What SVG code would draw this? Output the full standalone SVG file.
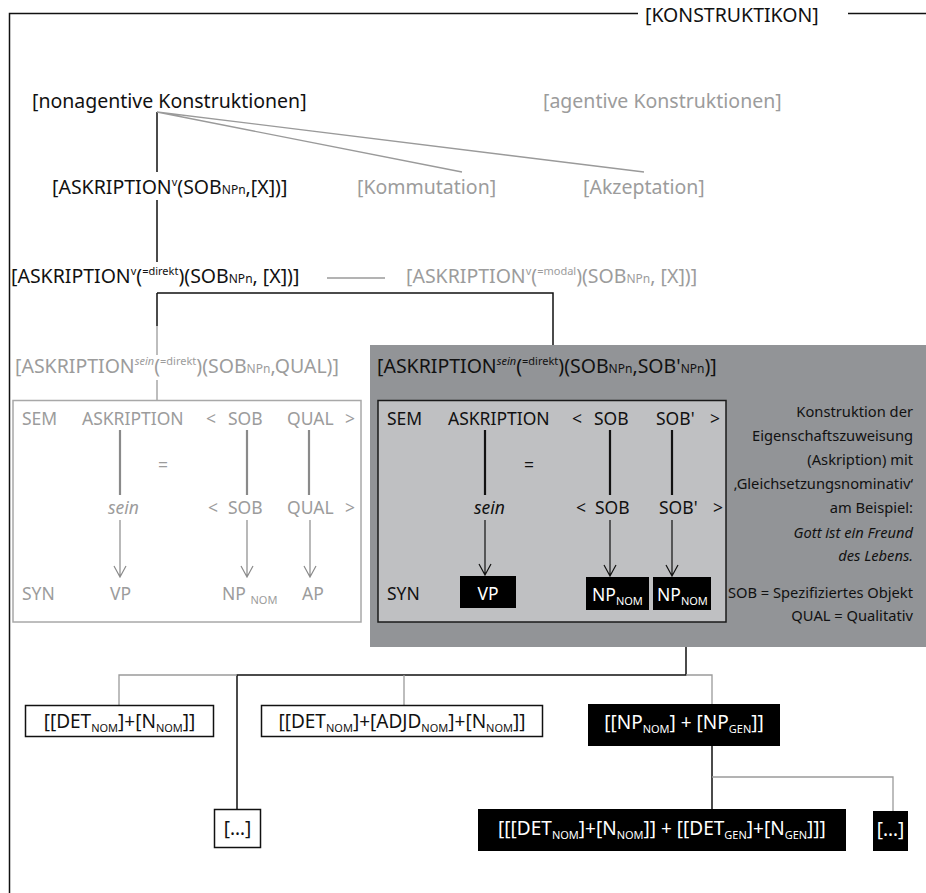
<svg xmlns="http://www.w3.org/2000/svg" width="926" height="893" viewBox="0 0 926 893">
<style>
text{font-family:"Noto Sans","DejaVu Sans",sans-serif;fill:#111}
.h{font-size:19.5px}
.gt{fill:#9c9c9c}
.bx{font-size:17.5px}
.sm{font-size:11px}
.np{font-size:12px}
.note{font-size:14.7px}
.w{fill:#fff}
.k{stroke:#111;stroke-width:1.5;fill:none}
.gl{stroke:#9a9a9a;stroke-width:1.3;fill:none}
.bt{font-size:19px}
</style>
<rect width="926" height="893" fill="#fff"/>

<g id="frame">
<path class="k" d="M9.5,893 V13.5 H638 M848,13.5 H926"/>
<text class="h" x="645" y="22">[KONSTRUKTIKON]</text>
</g>

<g id="connectors">
<path class="k" d="M157,112 V172 M157,200 V262 M157,293 H553 V350 M157,293 V326"/>
<path class="gl" d="M157,112 L462,172 M157,112 L644,172 M327,278 H385 M157,326 V355 M157,380 V400"/>
<path class="k" d="M686,610 V675 H237 V810 M712,746 V809"/>
<path class="gl" d="M237,675 H119 V705 M686,675 H712 V704 M404,675 V705 M712,777 H893 V811"/>
</g>

<g id="n-nonagentive"><text class="h" x="32" y="108">[nonagentive Konstruktionen]</text></g>
<g id="n-agentive"><text class="h gt" x="543" y="108">[agentive Konstruktionen]</text></g>
<g id="n-askription"><text class="h" x="52" y="194">[ASKRIPTION<tspan class="sm" dy="-8">v</tspan><tspan dy="8">(SOB</tspan><tspan class="np">NPn</tspan>,[X])]</text></g>
<g id="n-kommutation"><text class="h gt" x="357" y="194">[Kommutation]</text></g>
<g id="n-akzeptation"><text class="h gt" x="583" y="194">[Akzeptation]</text></g>
<g id="n-direkt"><text class="h" x="11" y="283">[ASKRIPTION<tspan class="sm" dy="-8">v</tspan><tspan dy="8">(</tspan><tspan class="sm" dy="-8">=direkt</tspan><tspan dy="8">)(SOB</tspan><tspan class="np">NPn</tspan>, [X])]</text></g>
<g id="n-modal"><text class="h gt" x="406" y="283">[ASKRIPTION<tspan class="sm" dy="-8">v</tspan><tspan dy="8">(</tspan><tspan class="sm" dy="-8">=modal</tspan><tspan dy="8">)(SOB</tspan><tspan class="np">NPn</tspan>, [X])]</text></g>

<g id="n-qual">
<text class="h gt" x="15" y="373">[ASKRIPTION<tspan class="sm" dy="-8" font-style="italic">sein</tspan><tspan dy="8">(</tspan><tspan class="sm" dy="-8">=direkt</tspan><tspan dy="8">)(SOB</tspan><tspan class="np">NPn</tspan>,QUAL)]</text>
<rect x="13" y="400.5" width="348" height="221.5" fill="#fff" stroke="#a8a8a8" stroke-width="1.5"/>
<g class="bx">
<text class="bx gt" x="22" y="425">SEM</text>
<text class="bx gt" x="82" y="425">ASKRIPTION</text>
<text class="bx gt" x="206" y="425">&lt;</text>
<text class="bx gt" x="228" y="425">SOB</text>
<text class="bx gt" x="287" y="425">QUAL</text>
<text class="bx gt" x="345" y="425">&gt;</text>
<text class="bx gt" x="158" y="471">=</text>
<text class="bx gt" x="108" y="514" font-style="italic">sein</text>
<text class="bx gt" x="208" y="514">&lt;</text>
<text class="bx gt" x="228" y="514">SOB</text>
<text class="bx gt" x="287" y="514">QUAL</text>
<text class="bx gt" x="345" y="514">&gt;</text>
<text class="bx gt" x="22" y="600">SYN</text>
<text class="bx gt" x="110" y="600">VP</text>
<text class="bx gt" x="222" y="600">NP <tspan class="sm" dy="4">NOM</tspan></text>
<text class="bx gt" x="302" y="600">AP</text>
</g>
<path d="M120,430 V495 M247,430 V495 M309,430 V495" stroke="#8a8a8a" stroke-width="2.2"/>
<path d="M120,520 V577 M247,520 V577 M310,520 V577 M114,566 L120,577 L126,566 M241,566 L247,577 L253,566 M304,566 L310,577 L316,566" stroke="#8a8a8a" stroke-width="1.2" fill="none"/>
</g>

<g id="n-sob">
<rect x="370" y="345" width="556" height="302" fill="#929497"/>
<text class="h" x="377" y="373">[ASKRIPTION<tspan class="sm" dy="-8" font-style="italic">sein</tspan><tspan dy="8">(</tspan><tspan class="sm" dy="-8">=direkt</tspan><tspan dy="8">)(SOB</tspan><tspan class="np">NPn</tspan>,SOB'<tspan class="np">NPn</tspan>)]</text>
<rect x="378" y="400.5" width="348" height="221.5" fill="#bfc0c2" stroke="#1a1a1a" stroke-width="1.5"/>
<text class="bx" x="387" y="425">SEM</text>
<text class="bx" x="448" y="425">ASKRIPTION</text>
<text class="bx" x="572" y="425">&lt;</text>
<text class="bx" x="594" y="425">SOB</text>
<text class="bx" x="656" y="425">SOB'</text>
<text class="bx" x="710" y="425">&gt;</text>
<text class="bx" x="524" y="471">=</text>
<text class="bx" x="474" y="514" font-style="italic">sein</text>
<text class="bx" x="576" y="514">&lt;</text>
<text class="bx" x="595" y="514">SOB</text>
<text class="bx" x="659" y="514">SOB'</text>
<text class="bx" x="713" y="514">&gt;</text>
<text class="bx" x="387" y="600">SYN</text>
<rect x="460" y="576" width="56" height="32" fill="#000"/>
<text class="bx w" x="488" y="600" text-anchor="middle">VP</text>
<rect x="586" y="577" width="63" height="33" fill="#000"/>
<text class="bx w" x="592" y="601">NP<tspan class="sm" dy="4">NOM</tspan></text>
<rect x="653" y="577" width="58" height="33" fill="#000"/>
<text class="bx w" x="657" y="601">NP<tspan class="sm" dy="4">NOM</tspan></text>
<path d="M485,430 V495 M610,430 V495 M672,430 V495" stroke="#111" stroke-width="2.2"/>
<path d="M485,520 V575 M610,520 V576 M672,520 V576 M479,564 L485,575 L491,564 M604,565 L610,576 L616,565 M666,565 L672,576 L678,565" stroke="#111" stroke-width="1.2" fill="none"/>
<g text-anchor="end">
<text class="note" x="913" y="417">Konstruktion der</text>
<text class="note" x="913" y="441">Eigenschaftszuweisung</text>
<text class="note" x="913" y="465">(Askription) mit</text>
<text class="note" x="913" y="489">‚Gleichsetzungsnominativ‘</text>
<text class="note" x="913" y="513">am Beispiel:</text>
<text class="note" x="913" y="538" font-style="italic">Gott ist ein Freund</text>
<text class="note" x="913" y="561" font-style="italic">des Lebens.</text>
<text class="note" x="913" y="598">SOB = Spezifiziertes Objekt</text>
<text class="note" x="913" y="621">QUAL = Qualitativ</text>
</g>
</g>

<g id="n-detn">
<rect x="25.5" y="705.5" width="188" height="31" fill="#fff" stroke="#111" stroke-width="1.5"/>
<text class="bt" x="119.5" y="728" text-anchor="middle">[[DET<tspan class="sm" dy="4">NOM</tspan><tspan dy="-4">]+[N</tspan><tspan class="sm" dy="4">NOM</tspan><tspan dy="-4">]]</tspan></text>
</g>
<g id="n-detadjdn">
<rect x="261.5" y="705.5" width="281" height="31" fill="#fff" stroke="#111" stroke-width="1.5"/>
<text class="bt" x="402" y="728" text-anchor="middle">[[DET<tspan class="sm" dy="4">NOM</tspan><tspan dy="-4">]+[ADJD</tspan><tspan class="sm" dy="4">NOM</tspan><tspan dy="-4">]+[N</tspan><tspan class="sm" dy="4">NOM</tspan><tspan dy="-4">]]</tspan></text>
</g>
<g id="n-npgen">
<rect x="588" y="704" width="192" height="42" fill="#000"/>
<text class="bt w" x="684" y="729" text-anchor="middle">[[NP<tspan class="sm" dy="4">NOM</tspan><tspan dy="-4">] + [NP</tspan><tspan class="sm" dy="4">GEN</tspan><tspan dy="-4">]]</tspan></text>
</g>
<g id="n-ellipsis1">
<rect x="214.5" y="809.5" width="46" height="38" fill="#fff" stroke="#111" stroke-width="1.5"/>
<text class="bt" x="237.5" y="835" text-anchor="middle">[…]</text>
</g>
<g id="n-detgen">
<rect x="478" y="809" width="368" height="42" fill="#000"/>
<text class="bt w" x="662" y="835" text-anchor="middle">[[[DET<tspan class="sm" dy="4">NOM</tspan><tspan dy="-4">]+[N</tspan><tspan class="sm" dy="4">NOM</tspan><tspan dy="-4">]] + [[DET</tspan><tspan class="sm" dy="4">GEN</tspan><tspan dy="-4">]+[N</tspan><tspan class="sm" dy="4">GEN</tspan><tspan dy="-4">]]]</tspan></text>
</g>
<g id="n-ellipsis2">
<rect x="873" y="811" width="35" height="40" fill="#000"/>
<text class="bt w" x="890.5" y="836" text-anchor="middle">[…]</text>
</g>
</svg>
